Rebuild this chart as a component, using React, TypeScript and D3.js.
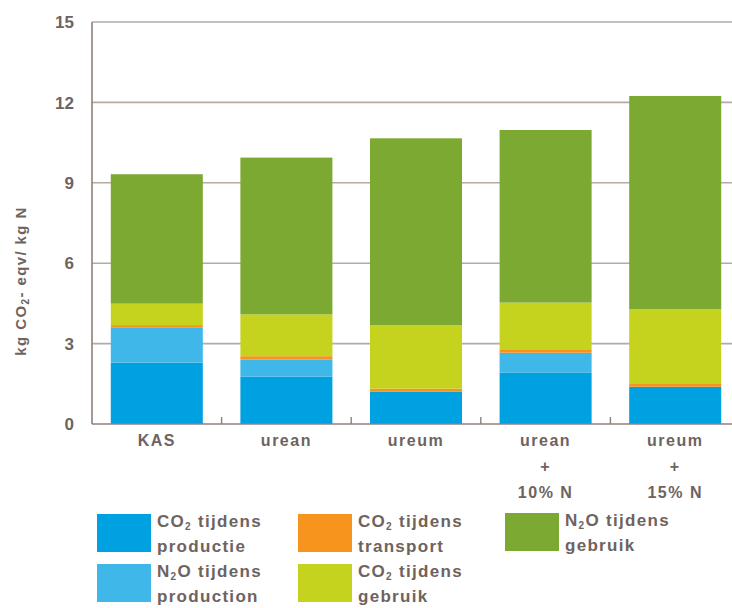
import * as d3 from "d3";

const categories = [["KAS"], ["urean"], ["ureum"], ["urean", "+", "10% N"], ["ureum", "+", "15% N"]];
const co2Productie = [2.29, 1.77, 1.2, 1.91, 1.39];
const n2oProductie = [1.3, 0.64, 0, 0.75, 0];
const co2Transport = [0.1, 0.12, 0.12, 0.13, 0.13];
const co2Gebruik = [0.8, 1.56, 2.37, 1.74, 2.76];
const n2oGebruik = [4.83, 5.85, 6.97, 6.44, 7.96];
const yTicks = [0, 3, 6, 9, 12, 15];

const seriesKeys = ["co2Productie", "n2oProductie", "co2Transport", "co2Gebruik", "n2oGebruik"];
const colors = ["#00a1e1", "#3fb7e9", "#f7941e", "#c5d31f", "#7ba932"];
// legend label: [molecule, subscript, rest, second line]
const legendLabels = [
  ["CO", "2", " tijdens", "productie"],
  ["N", "2", "O tijdens", "production"],
  ["CO", "2", " tijdens", "transport"],
  ["CO", "2", " tijdens", "gebruik"],
  ["N", "2", "O tijdens", "gebruik"],
];

const textColor = "#6e635e";
const font = "'Liberation Sans', Arial, sans-serif";

export default function App() {
  const width = 732;
  const height = 608;
  const left = 92;
  const bottom = 424;

  const rows = categories.map((c, i) => ({
    key: String(i),
    co2Productie: co2Productie[i],
    n2oProductie: n2oProductie[i],
    co2Transport: co2Transport[i],
    co2Gebruik: co2Gebruik[i],
    n2oGebruik: n2oGebruik[i],
  }));
  const stacked = d3.stack<any>().keys(seriesKeys)(rows);

  const x = d3
    .scaleBand<string>()
    .domain(rows.map((r) => r.key))
    .range([left, 740])
    .paddingInner(0.29)
    .paddingOuter(0.145);
  const y = d3.scaleLinear().domain([0, 15]).range([bottom, 22]);

  const gap = (x.step() - x.bandwidth()) / 2;
  const boundaries = rows.slice(0, -1).map((r) => (x(r.key) as number) + x.bandwidth() + gap);

  // legend slots: column x, row y
  const legendPos = [
    [97, 514],
    [97, 564],
    [298, 514],
    [298, 564],
    [505, 513],
  ];

  return (
    <svg width={width} height={height} style={{ position: "absolute", left: 0, top: 0 }}>
      <rect width={width} height={height} fill="#fff" />
      {yTicks.filter((t) => t > 0).map((t) => (
        <line key={t} x1={left} x2={732} y1={y(t)} y2={y(t)} stroke="#b5aaa4" strokeWidth={1.6} />
      ))}
      {stacked.map((s, si) =>
        s.map((d, i) => (
          <rect
            key={si + "-" + i}
            x={x(rows[i].key)}
            y={y(d[1])}
            width={x.bandwidth()}
            height={Math.max(0, y(d[0]) - y(d[1]))}
            fill={colors[si]}
          />
        ))
      )}
      <line x1={left} x2={left} y1={y(15)} y2={bottom} stroke="#8e817b" strokeWidth={1.6} />
      <line x1={left} x2={732} y1={bottom} y2={bottom} stroke="#8e817b" strokeWidth={1.6} />
      {boundaries.map((b, i) => (
        <line key={i} x1={b} x2={b} y1={bottom} y2={bottom - 7} stroke="#8e817b" strokeWidth={1.4} />
      ))}
      {yTicks.map((t) => (
        <text key={t} x={74} y={y(t)} dy="0.36em" textAnchor="end" fontFamily={font} fontSize={17} fontWeight="bold" fill={textColor}>
          {t}
        </text>
      ))}
      <text
        transform={`translate(21,281) rotate(-90)`}
        textAnchor="middle"
        dy="0.35em"
        fontFamily={font}
        fontSize={15}
        fontWeight="bold"
        letterSpacing={1.4}
        fill={textColor}
      >
        kg CO<tspan fontSize={10} dy="3">2</tspan><tspan dy="-3">- eqv/ kg N</tspan>
      </text>
      {categories.map((lines, i) => (
        <text key={i} textAnchor="middle" fontFamily={font} fontSize={16} fontWeight="bold" letterSpacing={1.5} fill={textColor}>
          {lines.map((l, j) => (
            <tspan key={j} x={(x(rows[i].key) as number) + x.bandwidth() / 2} y={446 + j * 26}>
              {l}
            </tspan>
          ))}
        </text>
      ))}
      {legendLabels.map((lab, i) => {
        const [lx, ly] = legendPos[i];
        return (
          <g key={i} transform={`translate(${lx},${ly})`}>
            <rect width={54} height={38} fill={colors[i]} />
            <text fontFamily={font} fontSize={17} fontWeight="bold" letterSpacing={1.3} fill={textColor}>
              <tspan x={60} y={13}>{lab[0]}</tspan>
              <tspan fontSize={10} dy="3">{lab[1]}</tspan>
              <tspan dy="-3">{lab[2]}</tspan>
              <tspan x={60} y={38}>{lab[3]}</tspan>
            </text>
          </g>
        );
      })}
    </svg>
  );
}
